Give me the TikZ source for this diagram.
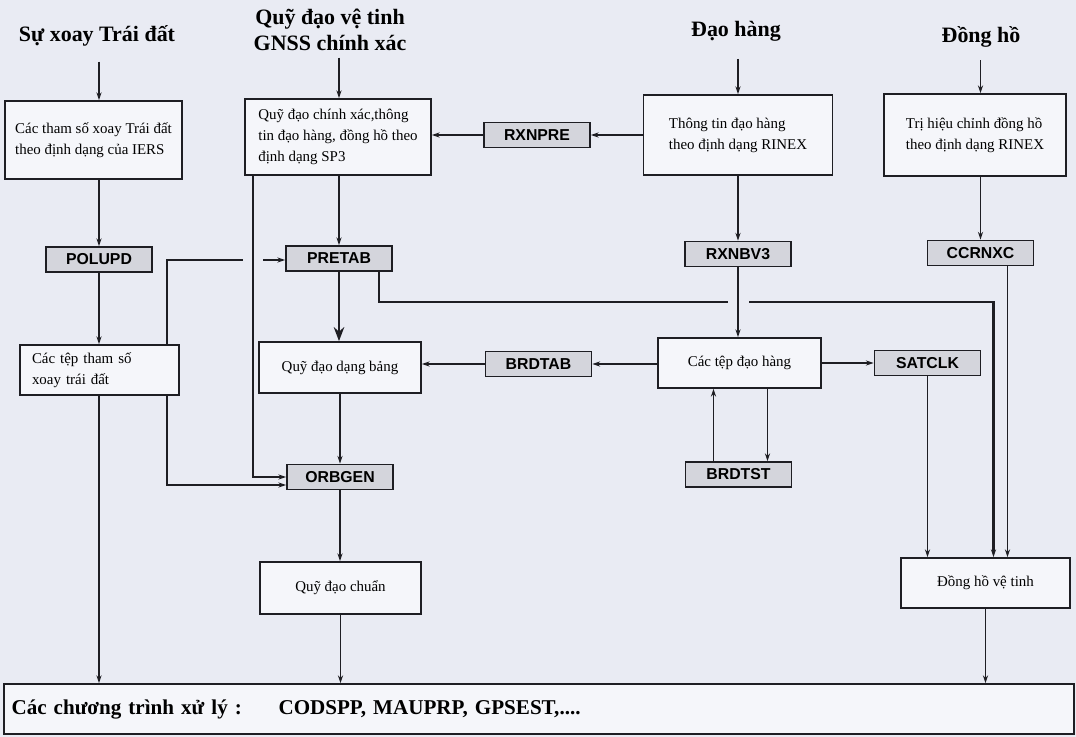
\documentclass[tikz,border=0pt]{standalone}
\usepackage{fontspec}
\setmainfont{Liberation Serif}
\setsansfont{Liberation Sans}
\usepackage{tikz}
\usetikzlibrary{arrows.meta, positioning, calc}

\definecolor{paper}{RGB}{233,235,243}
\definecolor{boxfill}{RGB}{245,246,250}
\definecolor{progfill}{RGB}{212,213,220}
\definecolor{ink}{RGB}{30,30,35}

\begin{document}
\begin{tikzpicture}[x=0.02cm, y=-0.02cm,
  ttl/.style={font=\fontsize{12.5}{15}\selectfont\bfseries, align=center, inner sep=1pt},
  file/.style={draw=ink, line width=1pt, fill=boxfill, font=\fontsize{8.5}{12}\selectfont, align=left},
  prog/.style={draw=ink, line width=1pt, fill=progfill, font=\sffamily\bfseries\fontsize{9}{10}\selectfont,
    inner sep=0pt, minimum width=2.12cm, minimum height=0.5cm},
  arr/.style={draw=ink, line width=0.75pt, -{Stealth[length=4.5pt,width=3pt]}},
  wire/.style={draw=ink, line width=0.75pt}]

  % Page
  \fill[paper] (0,0) rectangle (1076,737);
  \useasboundingbox (0,0) rectangle (1076,737);

  % Titles
  \node[ttl] (t1) at (97,36) {Sự xoay Trái đất};
  \node[ttl] (t2) at (330,30) {Quỹ đạo vệ tinh\\GNSS chính xác};
  \node[ttl] (t3) at (736,31) {Đạo hàng};
  \node[ttl] (t4) at (981,37) {Đồng hồ};

  % Data boxes
  \node[file, minimum width=3.54cm, minimum height=1.56cm] (b1) at (93.5,140) {Các tham số xoay Trái đất\\theo định dạng của IERS};
  \node[file, minimum width=3.72cm, minimum height=1.52cm] (b2) at (338,137) {Quỹ đạo chính xác,thông\\tin đạo hàng, đồng hồ theo\\định dạng SP3};
  \node[file, minimum width=3.78cm, minimum height=1.6cm] (b3) at (738,135) {Thông tin đạo hàng\\theo định dạng RINEX};
  \node[file, minimum width=3.64cm, minimum height=1.64cm] (b4) at (975,135) {Trị hiệu chỉnh đồng hồ\\theo định dạng RINEX};
  \node[file, minimum width=3.18cm, minimum height=1cm, text width=2.7cm] (b5) at (99.5,370) {Các tệp tham số\\xoay trái đất};
  \node[file, minimum width=3.24cm, minimum height=1.02cm] (b6) at (340,367.5) {Quỹ đạo dạng bảng};
  \node[file, minimum width=3.26cm, minimum height=1cm] (b7) at (739.5,363) {Các tệp đạo hàng};
  \node[file, minimum width=3.22cm, minimum height=1.04cm] (b8) at (340.5,588) {Quỹ đạo chuẩn};
  \node[file, minimum width=3.38cm, minimum height=1cm] (b9) at (985.5,583) {Đồng hồ vệ tinh};
  \node[file, minimum width=21.4cm, minimum height=1cm, text width=21.1cm, font=\fontsize{12}{14}\selectfont\bfseries] (out) at (539,709)
    {\makebox[5.34cm][l]{Các chương trình xử lý :}CODSPP, MAUPRP, GPSEST,....};

  % Programs
  \node[prog] (rxnpre) at (537,135) {RXNPRE};
  \node[prog] (polupd) at (99,259.5) {POLUPD};
  \node[prog] (pretab) at (339,258.5) {PRETAB};
  \node[prog] (rxnbv3) at (738,254) {RXNBV3};
  \node[prog] (ccrnxc) at (980.5,253) {CCRNXC};
  \node[prog] (brdtab) at (538.5,364) {BRDTAB};
  \node[prog] (satclk) at (927.5,363) {SATCLK};
  \node[prog] (orbgen) at (340,477) {ORBGEN};
  \node[prog] (brdtst) at (738.5,474.5) {BRDTST};

  % From the titles
  \draw[arr, shorten <=7.5pt] (polupd |- t1.south) -- (polupd |- b1.north);
  \draw[arr, shorten <=2.5pt] (pretab |- t2.south) -- (pretab |- b2.north);
  \draw[arr, shorten <=9pt] (rxnbv3 |- t3.south) -- (rxnbv3 |- b3.north);
  \draw[arr, shorten <=6pt] (ccrnxc |- t4.south) -- (ccrnxc |- b4.north);

  % Earth rotation
  \draw[arr] (b1.south -| polupd) -- (polupd.north);
  \draw[arr] (polupd.south) -- (b5.north -| polupd);
  \draw[arr] (b5.south -| polupd) -- (out.north -| polupd);
  \coordinate (j1) at (253,260);
  \draw[wire] ($(b5.north east)+(-13,0)$) |- ($(j1)+(-10,0)$);
  \draw[arr] ($(j1)+(10,0)$) -- (pretab.west |- j1);
  \draw[arr] ($(b5.south east)+(-13,0)$) |- ($(orbgen.west)+(0,8)$);

  % Precise orbits
  \draw[arr] (b2.south -| pretab) -- (pretab.north);
  \draw[arr] (b2.south -| j1) |- (orbgen.west);
  \draw[draw=ink, line width=1.1pt, -{Stealth[length=8pt,width=6pt]}] (pretab.south) -- (b6.north -| pretab);
  \draw[arr] (b6.south -| orbgen) -- (orbgen.north);
  \draw[arr] (orbgen.south) -- (b8.north -| orbgen);
  \draw[arr] (b8.south) -- (out.north -| b8);

  % Navigation
  \draw[arr] (b3.west |- rxnpre) -- (rxnpre.east);
  \draw[arr] (rxnpre.west) -- (rxnpre -| b2.east);
  \draw[arr] (b3.south -| rxnbv3) -- (rxnbv3.north);
  \draw[arr] (rxnbv3.south) -- (rxnbv3 |- b7.north);
  \draw[arr] (b7.west |- brdtab) -- (brdtab.east);
  \draw[arr] (brdtab.west) -- (brdtab -| b6.east);
  \draw[arr] (b7.east |- satclk) -- (satclk.west);
  \draw[arr] ($(b7.south)+(28,0)$) coordinate (d1) -- (d1 |- brdtst.north);
  \draw[arr] ($(brdtst.north)+(-25,0)$) coordinate (u1) -- (u1 |- b7.south);

  % Clocks
  \draw[arr] (b4.south -| ccrnxc) -- (ccrnxc.north);
  \draw[arr] ($(ccrnxc.south)+(27,0)$) coordinate (c1) -- (c1 |- b9.north);
  \draw[arr] (satclk.south) -- (satclk |- b9.north);
  \coordinate (j2) at (738,302);
  \draw[wire, line width=1.5pt] ($(pretab.south east)+(-14,0)$) |- ($(j2)+(-10,0)$);
  \draw[arr, line width=1.5pt] ($(j2)+(11,0)$) -| ($(b9.north)+(8,0)$);
  \draw[arr] (b9.south) -- (out.north -| b9);
\end{tikzpicture}
\end{document}
